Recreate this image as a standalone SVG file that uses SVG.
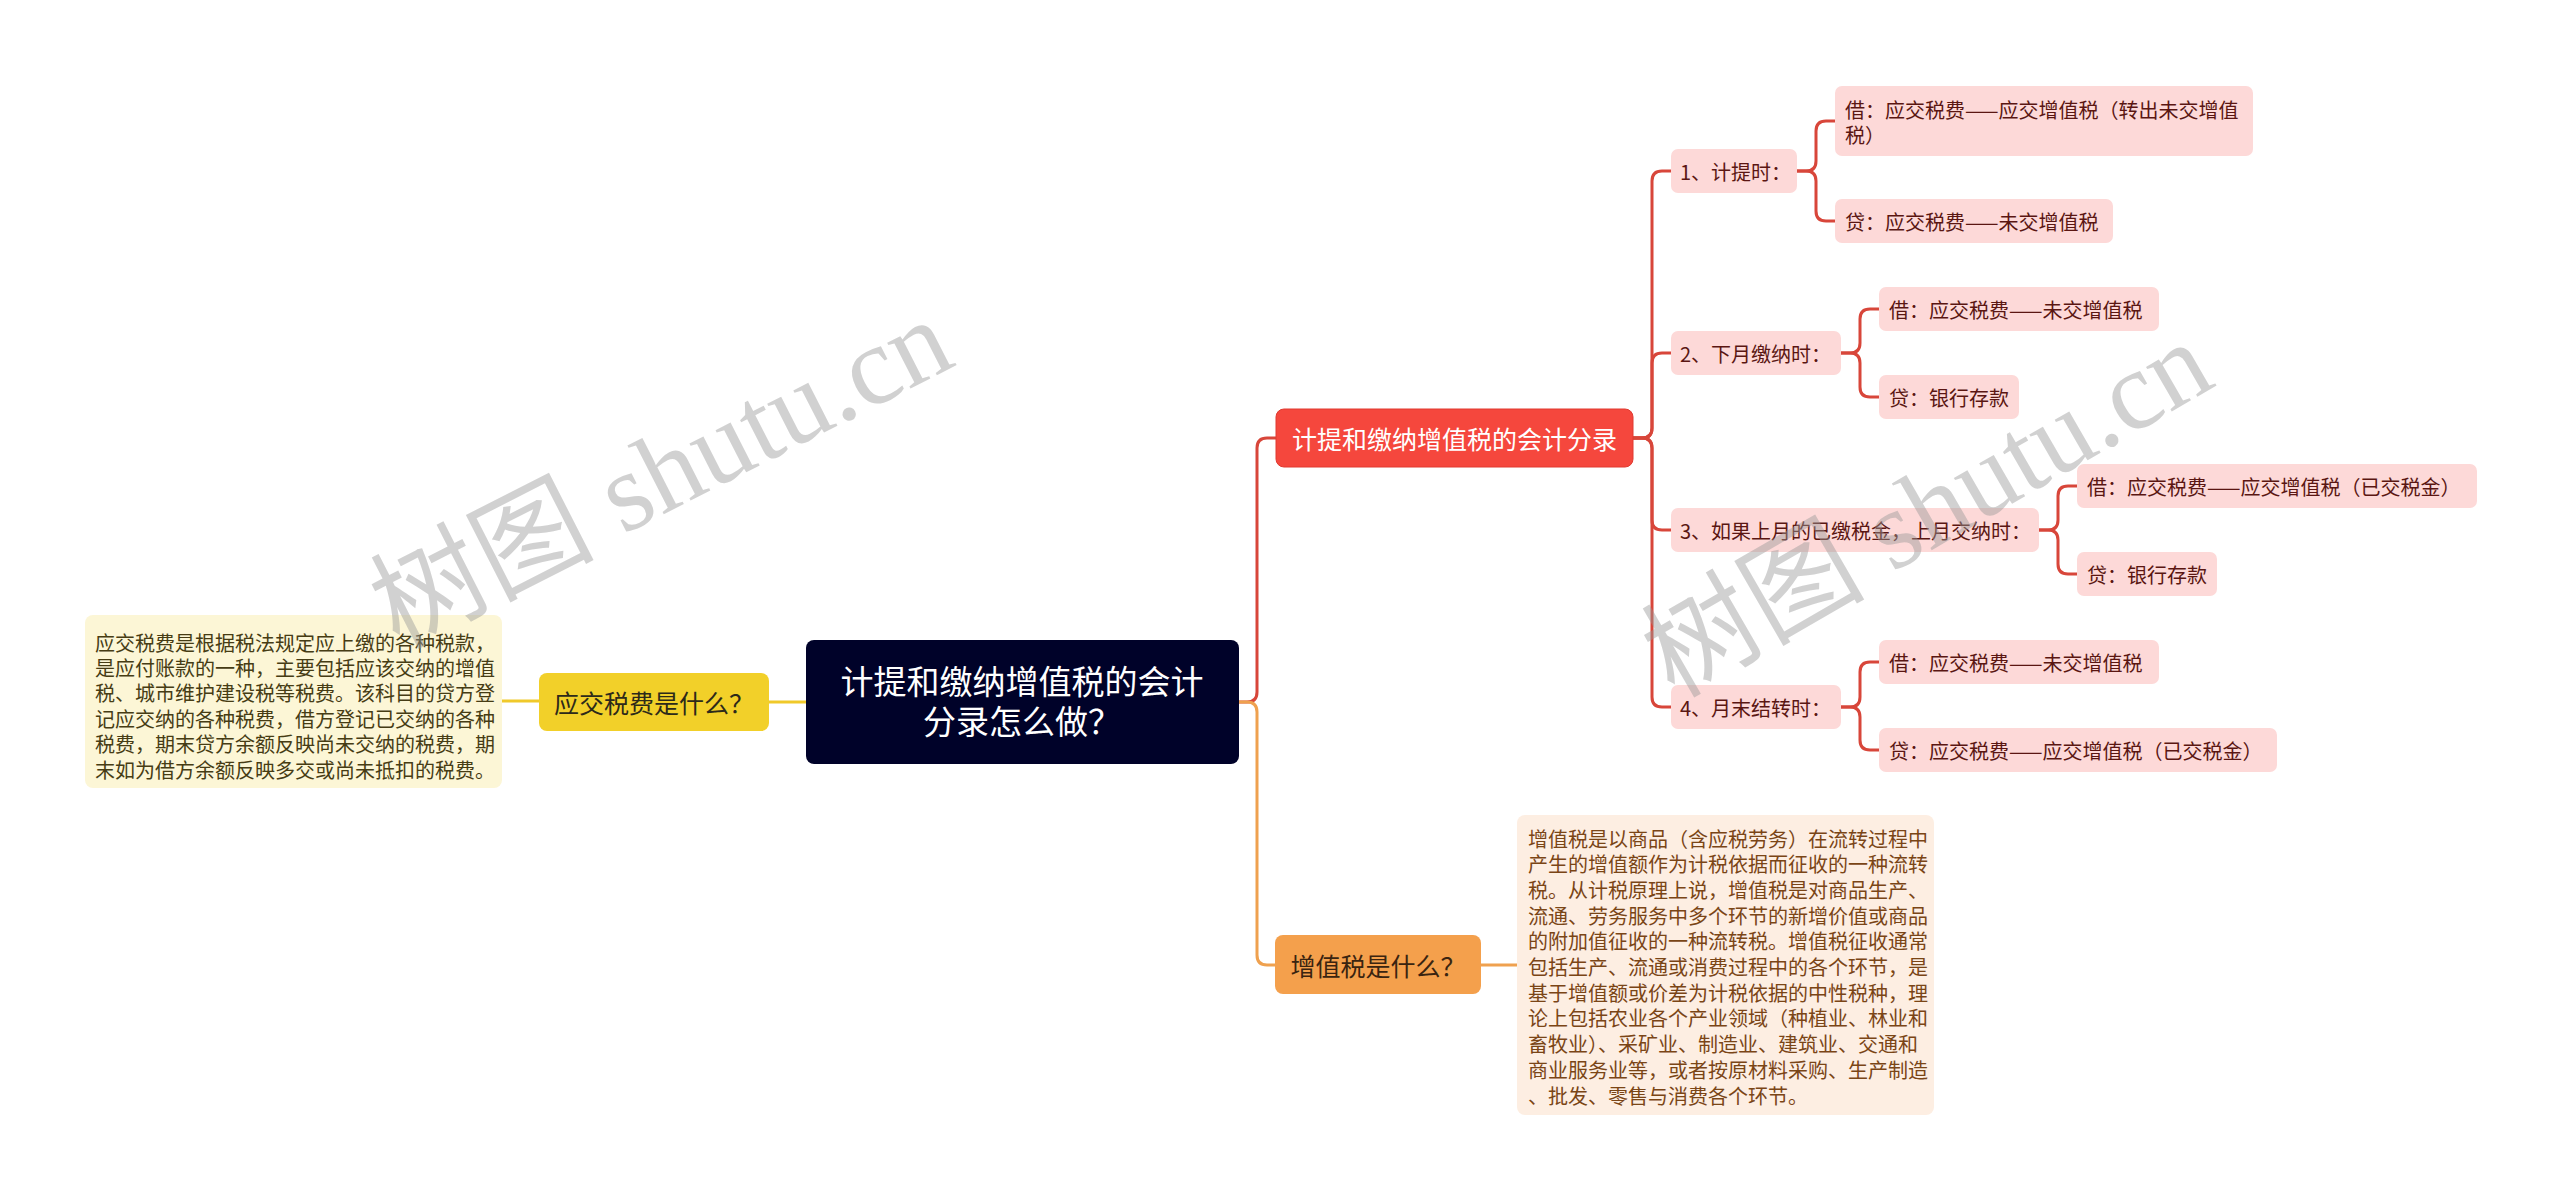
<svg xmlns="http://www.w3.org/2000/svg" width="2560" height="1201" viewBox="0 0 2560 1201">
<style>
text{font-family:"Noto Sans CJK SC","Noto Sans",sans-serif;dominant-baseline:central}
.c{fill:none;stroke-width:3;stroke-linecap:round;stroke-linejoin:round}
.red{stroke:#d8463a}
.org{stroke:#efa14f}
.yel{stroke:#f0c92a}
.pk{fill:#fdd9d8}
.pt{font-size:20px;fill:#5a1612}
.nt{font-size:20px}
.wm{font-family:"Liberation Serif","Noto Sans CJK SC",serif;font-size:112px;fill:#9a9a9a;fill-opacity:0.45}
</style>
<rect width="2560" height="1201" fill="#ffffff"/>
<g id="connectors">
<path class="c red" d="M1239 702 H1247 Q1257 702 1257 692 V448 Q1257 438 1267 438 H1276"/>
<path class="c org" d="M1239 702 H1247 Q1257 702 1257 712 V955 Q1257 965 1267 965 H1275"/>
<path class="c yel" d="M806 702 H769"/>
<path class="c yel" d="M539 701 H502"/>
<path class="c org" d="M1481 965 H1517"/>
<path class="c red" d="M1633 438 H1642 Q1652 438 1652 428 V181 Q1652 171 1662 171 H1671"/>
<path class="c red" d="M1633 438 H1642 Q1652 438 1652 428 V363 Q1652 353 1662 353 H1671"/>
<path class="c red" d="M1633 438 H1642 Q1652 438 1652 448 V520 Q1652 530 1662 530 H1671"/>
<path class="c red" d="M1633 438 H1642 Q1652 438 1652 448 V697 Q1652 707 1662 707 H1671"/>
<path class="c red" d="M1797 171 H1806 Q1816 171 1816 161 V131 Q1816 121 1826 121 H1835"/>
<path class="c red" d="M1797 171 H1806 Q1816 171 1816 181 V211 Q1816 221 1826 221 H1835"/>
<path class="c red" d="M1841 353 H1850 Q1860 353 1860 343 V319 Q1860 309 1870 309 H1879"/>
<path class="c red" d="M1841 353 H1850 Q1860 353 1860 363 V387 Q1860 397 1870 397 H1879"/>
<path class="c red" d="M2039 530 H2048 Q2058 530 2058 520 V496 Q2058 486 2068 486 H2077"/>
<path class="c red" d="M2039 530 H2048 Q2058 530 2058 540 V564 Q2058 574 2068 574 H2077"/>
<path class="c red" d="M1841 707 H1850 Q1860 707 1860 697 V672 Q1860 662 1870 662 H1879"/>
<path class="c red" d="M1841 707 H1850 Q1860 707 1860 717 V740 Q1860 750 1870 750 H1879"/>
</g>
<g id="root">
<rect x="806" y="640" width="433" height="124" rx="8" fill="#000229"/>
<text x="1022" y="680" font-size="33" fill="#ffffff" text-anchor="middle">计提和缴纳增值税的会计</text>
<text x="1022" y="720" font-size="33" fill="#ffffff" text-anchor="middle">分录怎么做？</text>
</g>
<g id="n-yjsf">
<rect x="539" y="673" width="230" height="58" rx="8" fill="#f2d029"/>
<text x="654" y="702" font-size="25" fill="#2d2a1a" text-anchor="middle">应交税费是什么？</text>
</g>
<g id="n-yjsf-note">
<rect x="85" y="615" width="417" height="173" rx="8" fill="#fcf6d6"/>
<g class="nt" fill="#463c14">
<text x="95" y="642">应交税费是根据税法规定应上缴的各种税款，</text>
<text x="95" y="667.4">是应付账款的一种，主要包括应该交纳的增值</text>
<text x="95" y="692.8">税、城市维护建设税等税费。该科目的贷方登</text>
<text x="95" y="718.2">记应交纳的各种税费，借方登记已交纳的各种</text>
<text x="95" y="743.6">税费，期末贷方余额反映尚未交纳的税费，期</text>
<text x="95" y="769">末如为借方余额反映多交或尚未抵扣的税费。</text>
</g>
</g>
<g id="n-fl">
<rect x="1276" y="409" width="357" height="58" rx="8" fill="#f5473d" stroke="#e03a30" stroke-width="1"/>
<text x="1454.5" y="438" font-size="25" fill="#ffffff" text-anchor="middle">计提和缴纳增值税的会计分录</text>
</g>
<g id="n-zzs">
<rect x="1275" y="935" width="206" height="59" rx="8" fill="#f4a04c"/>
<text x="1378" y="965" font-size="25" fill="#3a2410" text-anchor="middle">增值税是什么？</text>
</g>
<g id="n-zzs-note">
<rect x="1517" y="815" width="417" height="300" rx="8" fill="#fdeee2"/>
<g class="nt" fill="#7a4516">
<text x="1528" y="838">增值税是以商品（含应税劳务）在流转过程中</text>
<text x="1528" y="863.7">产生的增值额作为计税依据而征收的一种流转</text>
<text x="1528" y="889.4">税。从计税原理上说，增值税是对商品生产、</text>
<text x="1528" y="915.1">流通、劳务服务中多个环节的新增价值或商品</text>
<text x="1528" y="940.8">的附加值征收的一种流转税。增值税征收通常</text>
<text x="1528" y="966.5">包括生产、流通或消费过程中的各个环节，是</text>
<text x="1528" y="992.2">基于增值额或价差为计税依据的中性税种，理</text>
<text x="1528" y="1017.9">论上包括农业各个产业领域（种植业、林业和</text>
<text x="1528" y="1043.6">畜牧业）、采矿业、制造业、建筑业、交通和</text>
<text x="1528" y="1069.3">商业服务业等，或者按原材料采购、生产制造</text>
<text x="1528" y="1095">、批发、零售与消费各个环节。</text>
</g>
</g>
<g id="n-1">
<rect class="pk" x="1671" y="149" width="126" height="44" rx="7"/>
<text class="pt" x="1680" y="171">1、计提时：</text>
</g>
<g id="n-1a">
<rect class="pk" x="1835" y="86" width="418" height="70" rx="7"/>
<text class="pt" x="1845" y="109">借：应交税费——应交增值税（转出未交增值</text>
<text class="pt" x="1845" y="134">税）</text>
</g>
<g id="n-1b">
<rect class="pk" x="1835" y="199" width="278" height="44" rx="7"/>
<text class="pt" x="1845" y="221">贷：应交税费——未交增值税</text>
</g>
<g id="n-2">
<rect class="pk" x="1671" y="331" width="170" height="44" rx="7"/>
<text class="pt" x="1680" y="353">2、下月缴纳时：</text>
</g>
<g id="n-2a">
<rect class="pk" x="1879" y="287" width="280" height="44" rx="7"/>
<text class="pt" x="1889" y="309">借：应交税费——未交增值税</text>
</g>
<g id="n-2b">
<rect class="pk" x="1879" y="375" width="140" height="44" rx="7"/>
<text class="pt" x="1889" y="397">贷：银行存款</text>
</g>
<g id="n-3">
<rect class="pk" x="1671" y="508" width="368" height="44" rx="7"/>
<text class="pt" x="1680" y="530">3、如果上月的已缴税金，上月交纳时：</text>
</g>
<g id="n-3a">
<rect class="pk" x="2077" y="464" width="400" height="44" rx="7"/>
<text class="pt" x="2087" y="486">借：应交税费——应交增值税（已交税金）</text>
</g>
<g id="n-3b">
<rect class="pk" x="2077" y="552" width="140" height="44" rx="7"/>
<text class="pt" x="2087" y="574">贷：银行存款</text>
</g>
<g id="n-4">
<rect class="pk" x="1671" y="685" width="170" height="44" rx="7"/>
<text class="pt" x="1680" y="707">4、月末结转时：</text>
</g>
<g id="n-4a">
<rect class="pk" x="1879" y="640" width="280" height="44" rx="7"/>
<text class="pt" x="1889" y="662">借：应交税费——未交增值税</text>
</g>
<g id="n-4b">
<rect class="pk" x="1879" y="728" width="398" height="44" rx="7"/>
<text class="pt" x="1889" y="750">贷：应交税费——应交增值税（已交税金）</text>
</g>
<g id="watermark">
<text class="wm" x="661" y="473" text-anchor="middle" transform="rotate(-27 661 473)">树图 shutu.cn</text>
<text class="wm" x="1927" y="509" text-anchor="middle" transform="rotate(-30 1927 509)">树图 shutu.cn</text>
</g>
</svg>
